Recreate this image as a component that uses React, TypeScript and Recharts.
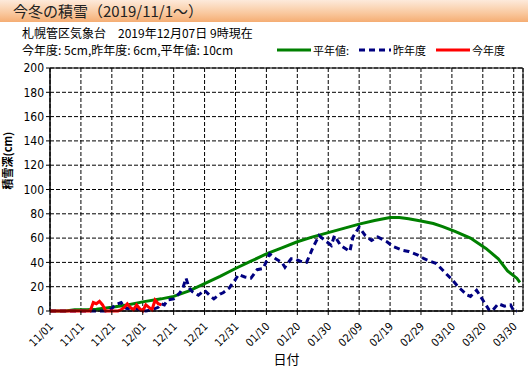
import { LineChart, Line, XAxis, YAxis, CartesianGrid, ReferenceArea } from 'recharts'

// days counted from 2019/11/01
const tickDays = [0, 10, 20, 30, 40, 50, 60, 70, 80, 90, 100, 110, 120, 130, 140, 150]
const tickLabels = [
  '11/01', '11/11', '11/21', '12/01', '12/11', '12/21', '12/31', '01/10',
  '01/20', '01/30', '02/09', '02/19', '02/29', '03/10', '03/20', '03/30',
]
const yTicks = [0, 20, 40, 60, 80, 100, 120, 140, 160, 180, 200]

// 平年値
const normalDays = [0, 5, 8, 12, 15, 20, 25, 30, 36, 40, 45, 50, 55, 60, 65, 70, 75, 80, 85, 90, 95, 100, 105, 110, 113, 116, 120, 124, 127, 131, 136, 141, 145, 148, 151, 152]
const normalSnow = [0, 0, 1, 1, 1.5, 3, 5, 7.5, 10, 12, 16.5, 22.5, 28.5, 35, 41, 47, 52, 57, 61, 64.5, 68, 71.5, 74.5, 77, 77, 76, 74, 72, 69.5, 65.5, 60, 51.5, 43, 33, 27, 23.5]

// 昨年度
const lastDays = [0, 14, 16, 18, 20, 21, 23, 24, 25, 27, 29, 31, 33, 35, 36, 37, 38, 40, 42, 43, 44, 45, 46, 48, 50, 52, 53, 55, 56, 58, 60, 61, 63, 65, 67, 69, 71, 73, 75, 76, 78, 79, 81, 83, 85, 87, 89, 91, 92, 94, 97, 98, 100, 102, 104, 106, 109, 111, 114, 116, 119, 121, 123, 125, 128, 130, 132, 135, 136, 138, 140, 142, 143, 145, 147, 149, 150, 151]
const lastSnow = [0, 0, 0, 0, 2, 5, 7, 3, 2, 3, 1, 0, 1, 3, 6, 5, 9, 10, 15, 19, 27, 19, 16, 13, 17, 12, 10, 14, 15, 19, 26, 30, 28, 27, 34, 35, 47, 43, 40, 36, 43, 43, 41, 40, 52, 62, 58, 54, 62, 54, 49, 61, 69, 62, 58, 61, 57, 53, 50, 49, 46, 43, 41, 39, 31, 26, 20, 13, 12, 17, 9, 1, 0, 6, 4, 5, 0, 0]

// 今年度
const thisDays = [0, 13, 14, 15, 16, 17, 18, 19, 20, 21, 22, 23, 24, 25, 26, 27, 28, 29, 30, 31, 32, 33, 34, 35, 36]
const thisSnow = [0, 0, 7, 6, 8, 5, 0, 0, 0, 0, 0, 1, 3, 6, 3, 1, 5, 2, 0, 5, 3, 1, 9, 6, 5]

const rows = (days: number[], vals: number[]) => days.map((d, i) => ({ day: d, v: vals[i] }))

const jp = '"Noto Sans CJK JP", "Noto Sans", sans-serif'
const num = '"Liberation Sans Narrow", "DejaVu Sans Condensed", "Noto Sans CJK JP", sans-serif'

const XTick = (props: any) => {
  const { x, y, payload } = props
  const i = tickDays.indexOf(payload.value)
  return (
    <text
      x={x + 4}
      y={y + 10}
      transform={`rotate(-45 ${x + 4} ${y + 10})`}
      textAnchor="end"
      fontSize={11}
      fontFamily={num}
      fill="#000"
    >
      {tickLabels[i]}
    </text>
  )
}

const LegendItem = ({ color, dash, label, w }: { color: string; dash?: boolean; label: string; w: number }) => (
  <div style={{ display: 'flex', alignItems: 'center', marginLeft: 10 }}>
    <svg width={w} height={6}>
      <line x1={0} y1={3} x2={w} y2={3} stroke={color} strokeWidth={3} strokeDasharray={dash ? '6 4' : undefined} />
    </svg>
    <span style={{ marginLeft: 2 }}>{label}</span>
  </div>
)

export default function App() {
  return (
    <div style={{ position: 'absolute', left: 0, top: 0, width: 528, height: 368, background: '#fff', fontFamily: jp, overflow: 'hidden' }}>
      <div
        style={{
          position: 'absolute', left: 0, top: 0, width: 528, height: 22,
          background: 'linear-gradient(to bottom, #fdeadb 0%, #f9c89e 60%, #f5ad73 100%)',
          fontSize: 15, lineHeight: '22px', color: '#222', paddingLeft: 13, boxSizing: 'border-box',
        }}
      >
        今冬の積雪（2019/11/1～）
      </div>
      <div style={{ position: 'absolute', left: 22, top: 25, fontSize: 12, lineHeight: '16px', color: '#000' }}>
        札幌管区気象台　2019年12月07日 9時現在
      </div>
      <div style={{ position: 'absolute', left: 22, top: 42, fontSize: 12, lineHeight: '16px', color: '#000' }}>
        今年度: 5cm,昨年度: 6cm,平年値: 10cm
      </div>
      <div style={{ position: 'absolute', left: 267, top: 42, display: 'flex', fontSize: 11, lineHeight: '16px', color: '#000' }}>
        <LegendItem color="#008000" label="平年値:" w={34} />
        <LegendItem color="#000080" dash label="昨年度" w={32} />
        <LegendItem color="#ff0000" label="今年度" w={34} />
      </div>
      <div style={{ position: 'absolute', left: 0, top: 0 }}>
        <LineChart width={528} height={368} margin={{ top: 68, right: 5, bottom: 12, left: 10 }}>
          <CartesianGrid stroke="#000" strokeDasharray="4 2" strokeWidth={1} />
          <XAxis
            type="number"
            dataKey="day"
            domain={[0, 153]}
            ticks={tickDays}
            interval={0}
            height={45}
            tick={<XTick />}
            tickSize={4}
            stroke="#000"
            label={{ value: '日付', position: 'insideBottom', offset: -8, fill: '#000', fontSize: 13, fontFamily: jp }}
          />
          <YAxis
            type="number"
            domain={[0, 200]}
            ticks={yTicks}
            interval={0}
            width={40}
            tickSize={4}
            stroke="#000"
            tick={{ fill: '#000', fontSize: 12, fontFamily: num }}
            label={{ value: '積雪深(cm)', angle: -90, position: 'insideLeft', offset: -2, dy: 0, fill: '#000', fontSize: 11, fontWeight: 'bold', fontFamily: jp }}
          />
          <ReferenceArea x1={0} x2={153} y1={0} y2={200} fill="none" stroke="#000" strokeWidth={1} ifOverflow="visible" />
          <Line data={rows(normalDays, normalSnow)} dataKey="v" stroke="#008000" strokeWidth={3} dot={false} isAnimationActive={false} />
          <Line data={rows(lastDays, lastSnow)} dataKey="v" stroke="#000080" strokeWidth={3} strokeDasharray="6 4" dot={false} isAnimationActive={false} />
          <Line data={rows(thisDays, thisSnow)} dataKey="v" stroke="#ff0000" strokeWidth={3} dot={false} isAnimationActive={false} />
        </LineChart>
      </div>
    </div>
  )
}
